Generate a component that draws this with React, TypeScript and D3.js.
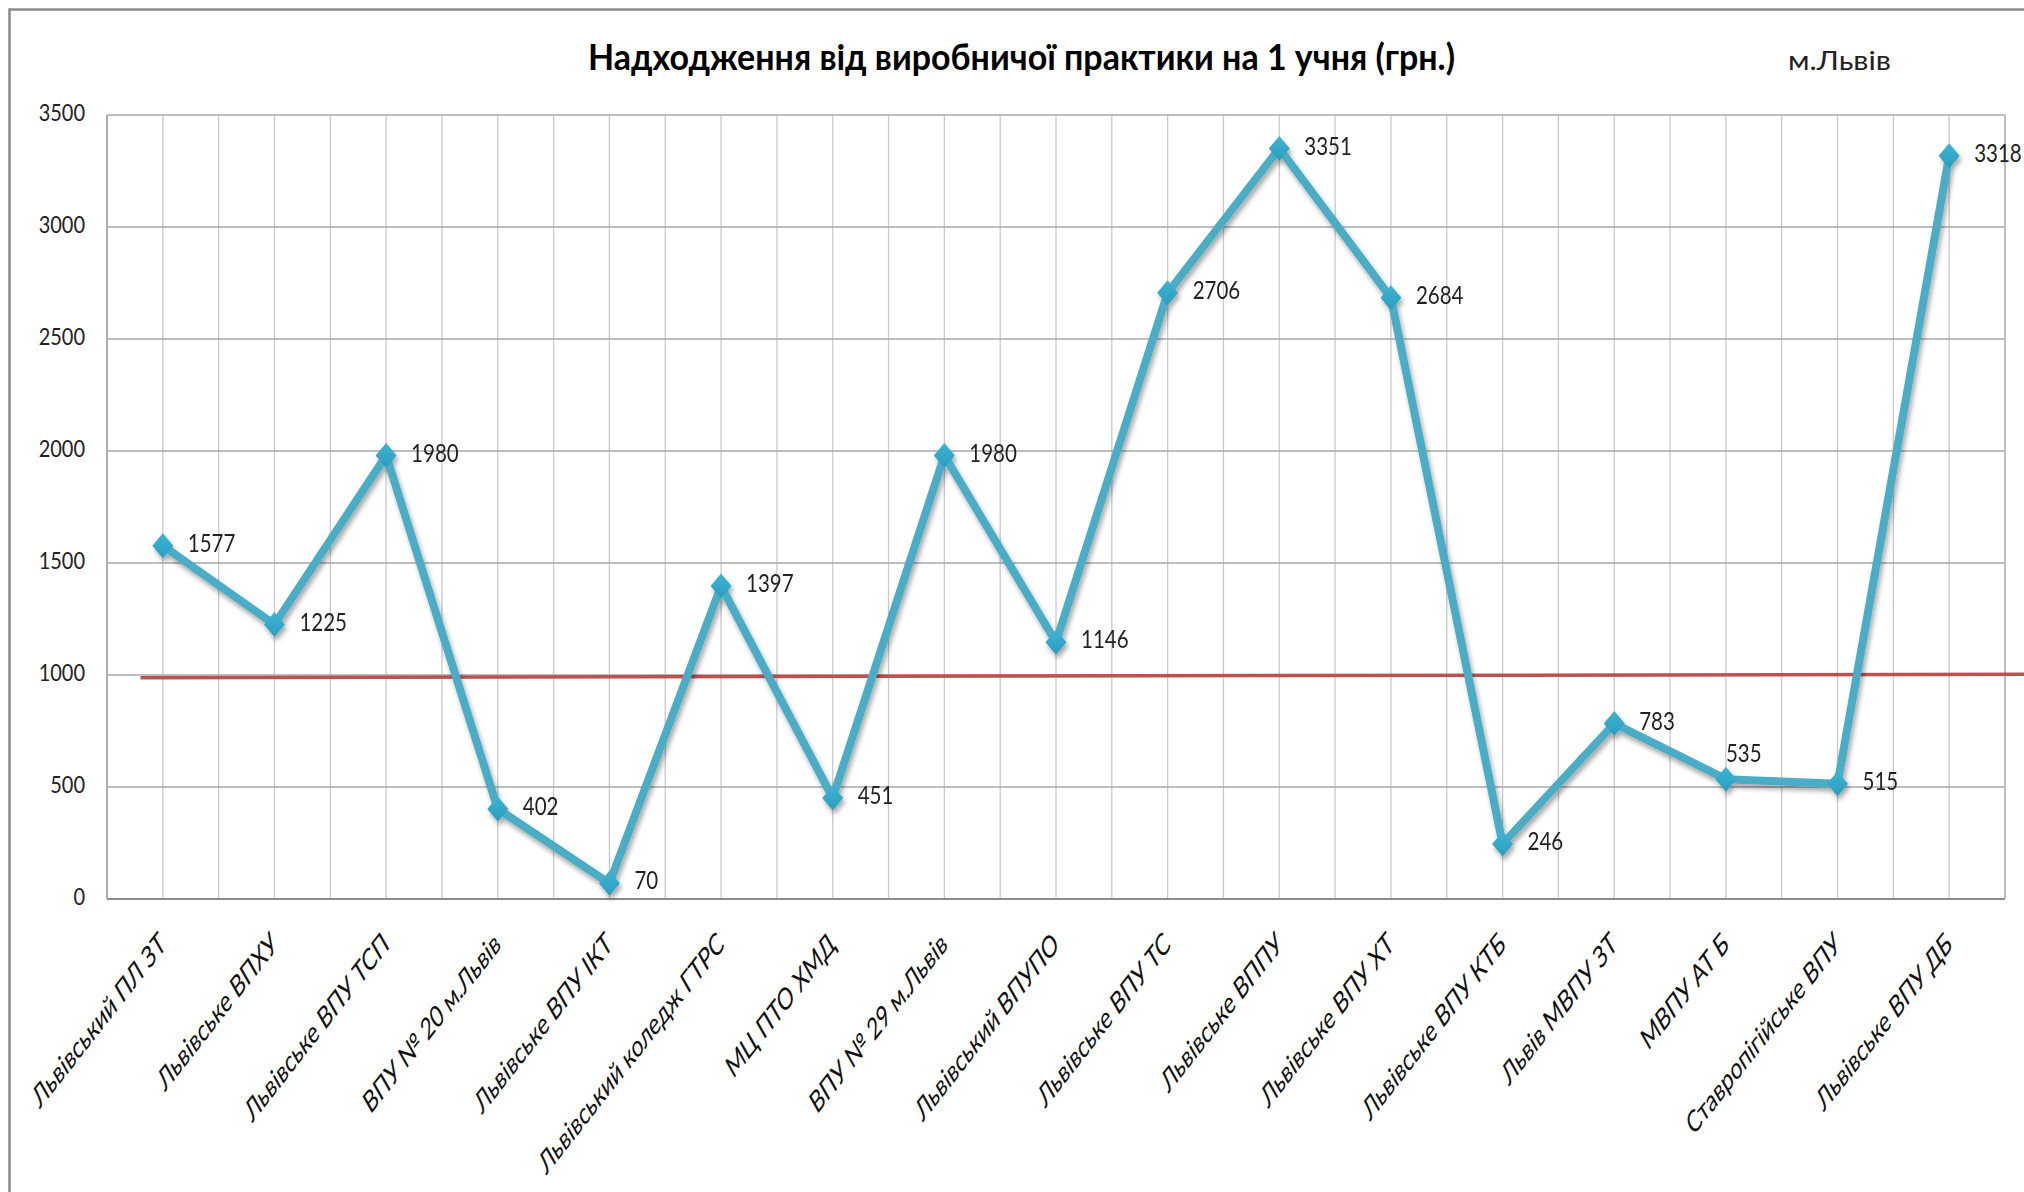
import React, { useEffect } from "react";
import * as d3 from "d3";

const categories = [
  "Львівський ПЛ ЗТ",
  "Львівське ВПХУ",
  "Львівське ВПУ ТСП",
  "ВПУ № 20 м.Львів",
  "Львівське ВПУ ІКТ",
  "Львівський коледж ГТРС",
  "МЦ ПТО ХМД",
  "ВПУ № 29 м.Львів",
  "Львівський ВПУПО",
  "Львівське ВПУ ТС",
  "Львівське ВППУ",
  "Львівське ВПУ ХТ",
  "Львівське ВПУ КТБ",
  "Львів МВПУ ЗТ",
  "МВПУ АТ Б",
  "Ставропігійське ВПУ",
  "Львівське ВПУ ДБ",
];
const values = [1577, 1225, 1980, 402, 70, 1397, 451, 1980, 1146, 2706, 3351, 2684, 246, 783, 535, 515, 3318];
const labelAbove = [false, false, false, false, false, false, false, false, false, false, false, false, false, false, true, false, false];
const yTicks = [0, 500, 1000, 1500, 2000, 2500, 3000, 3500];
const referenceLine = [
  { at: 0.3, value: 988 },
  { at: 17.3, value: 1003.5 },
];
const title = "Надходження від виробничої практики на 1 учня (грн.)";
const subtitle = "м.Львів";

const W = 2024;
const H = 1192;
const M = { left: 107, right: 2005, top: 115, bottom: 899 };
const SY = 1.19;
const FONT = "Lato, 'Open Sans', sans-serif";

export default function App() {
  useEffect(() => {
    document.body.style.margin = "0";
  }, []);

  const x = d3.scaleBand<string>().domain(categories).range([M.left, M.right]).padding(0);
  const bw = x.bandwidth();
  const cx = (c: string) => (x(c) as number) + bw / 2;
  const xu = d3.scaleLinear().domain([0, categories.length]).range([M.left, M.right]);
  const y = d3.scaleLinear().domain([0, 3500]).range([M.bottom, M.top]);

  const vGrid = d3.range(0, categories.length * 2 + 1).map((i) => M.left + (i * bw) / 2);
  const linePath = d3
    .line<number>()
    .x((_, i) => cx(categories[i]))
    .y((d) => y(d))(values) as string;
  const refPath = d3
    .line<{ at: number; value: number }>()
    .x((d) => xu(d.at))
    .y((d) => y(d.value))(referenceLine) as string;

  const diamond = "M0,-12.5 L10.5,0 L0,12.5 L-10.5,0 Z";

  return (
    <svg width={W} height={H} style={{ position: "absolute", left: 0, top: 0, display: "block", background: "#fff" }}>
      <defs>
        <filter id="sh" x="-20%" y="-20%" width="140%" height="140%">
          <feDropShadow dx="2" dy="4" stdDeviation="2.5" floodColor="#000" floodOpacity="0.35" />
        </filter>
        <linearGradient id="mk" x1="0" y1="0" x2="0" y2="1">
          <stop offset="0" stopColor="#3fb3d3" />
          <stop offset="1" stopColor="#2a9dbf" />
        </linearGradient>
      </defs>
      {/* outer frame */}
      <path d={`M9.5,${H} L9.5,9.5 L${W},9.5`} fill="none" stroke="#8a8a8a" strokeWidth={2.5} />

      {/* title */}
      <text
        transform={`translate(588,70) scale(1,${SY})`}
        fontFamily={FONT}
        fontWeight={700}
        fontSize={30}
        textLength={867}
        lengthAdjust="spacingAndGlyphs"
        fill="#000"
      >
        {title}
      </text>
      <text
        transform={`translate(1788,70) scale(1,${SY})`}
        fontFamily={FONT}
        fontSize={22}
        textLength={103}
        lengthAdjust="spacingAndGlyphs"
        fill="#222"
      >
        {subtitle}
      </text>

      {/* vertical gridlines */}
      {vGrid.map((gx, i) => (
        <line key={"v" + i} x1={gx} x2={gx} y1={M.top} y2={M.bottom} stroke="#c9c9c9" strokeWidth={1.3} />
      ))}
      {/* horizontal gridlines */}
      {yTicks.map((t) => (
        <line key={"h" + t} x1={M.left} x2={M.right} y1={y(t)} y2={y(t)} stroke={t === 0 ? "#8c8c8c" : "#a9a9a9"} strokeWidth={t === 0 ? 2.2 : 1.5} />
      ))}
      <line x1={M.left} x2={M.left} y1={M.top} y2={M.bottom} stroke="#a0a0a0" strokeWidth={1.5} />
      <line x1={M.right} x2={M.right} y1={M.top} y2={M.bottom} stroke="#b5b5b5" strokeWidth={1.5} />

      {/* y tick labels */}
      {yTicks.map((t) => (
        <text
          key={"yt" + t}
          transform={`translate(85,${y(t)}) scale(1,${SY})`}
          textAnchor="end"
          dominantBaseline="middle"
          fontFamily={FONT}
          fontSize={20}
          fill="#222"
        >
          {t}
        </text>
      ))}

      {/* category labels */}
      {categories.map((c) => (
        <text
          key={"c" + c}
          transform={`translate(${cx(c) + 1},${M.bottom + 42}) scale(1,${SY}) rotate(-47) skewX(-13)`}
          textAnchor="end"
          dominantBaseline="middle"
          fontFamily={FONT}
          fontSize={22.8}
          fill="#111"
        >
          {c}
        </text>
      ))}

      {/* reference line */}
      <path d={refPath} fill="none" stroke="#c0504d" strokeWidth={3.5} />

      {/* series */}
      <g filter="url(#sh)">
        <path d={linePath} fill="none" stroke="#4bacc6" strokeWidth={8} strokeLinejoin="round" />
        {values.map((v, i) => (
          <path key={"m" + i} d={diamond} transform={`translate(${cx(categories[i])},${y(v)})`} fill="url(#mk)" />
        ))}
      </g>

      {/* data labels */}
      {values.map((v, i) => {
        const px = cx(categories[i]);
        const py = y(v);
        const lx = labelAbove[i] ? px : px + 25;
        const ly = labelAbove[i] ? py - 23 : py;
        return (
          <text
            key={"dl" + i}
            transform={`translate(${lx},${ly}) scale(1,${SY})`}
            dominantBaseline="middle"
            fontFamily={FONT}
            fontSize={20.5}
            fill="#222"
          >
            {v}
          </text>
        );
      })}
    </svg>
  );
}
